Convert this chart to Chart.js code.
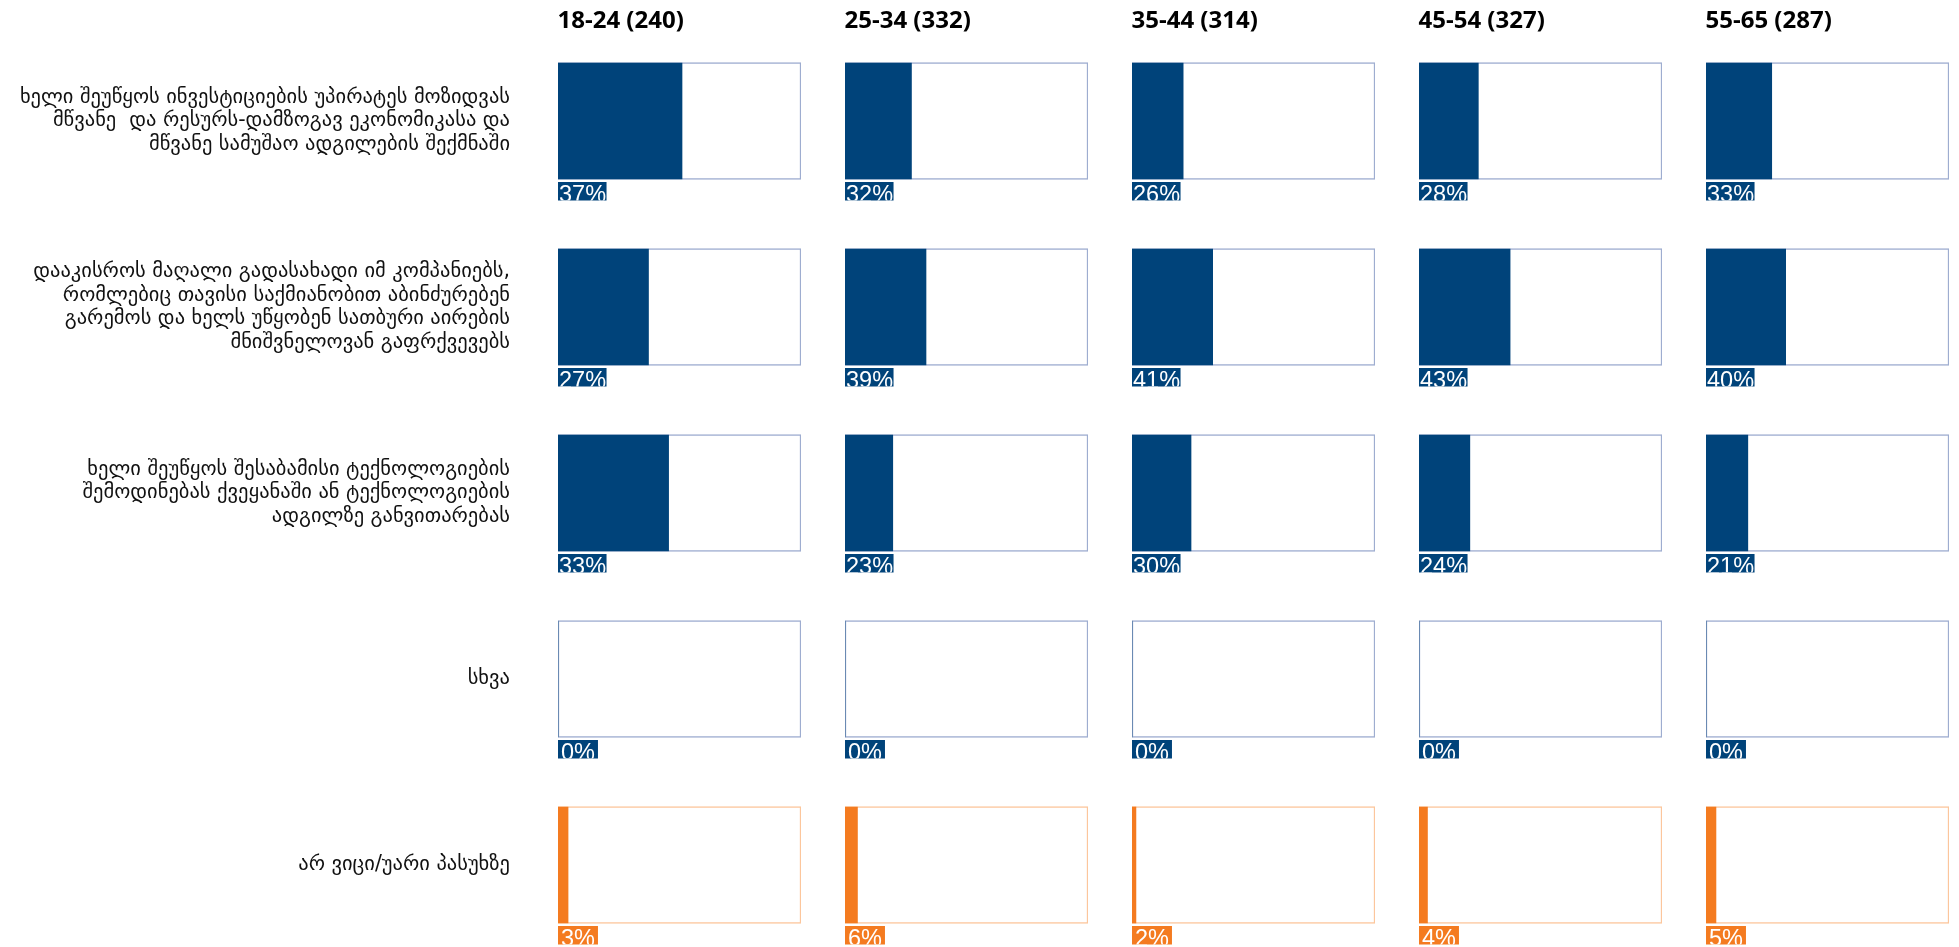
<!DOCTYPE html>
<html>
<head>
<meta charset="utf-8">
<script src="https://cdn.jsdelivr.net/npm/chart.js@4.4.1/dist/chart.umd.min.js"></script>
<style>
  html, body { margin: 0; padding: 0; background: #fff; overflow: hidden; width: 1959px; height: 947px; }
  .wrap { position: relative; width: 1959px; height: 947px; }
  canvas { position: absolute; top: 0; }
  .hdr { position: absolute; top: 3px; font-family: "Open Sans", sans-serif; font-weight: 700; font-size: 24px; line-height: 32px; color: #000; white-space: nowrap; }
</style>
</head>
<body>
<div class="wrap" id="wrap"></div>
<script>
// ---- data ----
const ageGroups = ['18-24 (240)', '25-34 (332)', '35-44 (314)', '45-54 (327)', '55-65 (287)'];
const statements = [
  ['ხელი შეუწყოს ინვესტიციების უპირატეს მოზიდვას', 'მწვანე  და რესურს-დამზოგავ ეკონომიკასა და', 'მწვანე სამუშაო ადგილების შექმნაში'],
  ['დააკისროს მაღალი გადასახადი იმ კომპანიებს,', 'რომლებიც თავისი საქმიანობით აბინძურებენ', 'გარემოს და ხელს უწყობენ სათბური აირების', 'მნიშვნელოვან გაფრქვევებს'],
  ['ხელი შეუწყოს შესაბამისი ტექნოლოგიების', 'შემოდინებას ქვეყანაში ან ტექნოლოგიების', 'ადგილზე განვითარებას'],
  'სხვა',
  'არ ვიცი/უარი პასუხზე'
];
const values1824 = [37, 27, 33, 0, 3];
const values2534 = [32, 39, 23, 0, 6];
const values3544 = [26, 41, 30, 0, 2];
const values4554 = [28, 43, 24, 0, 4];
const values5565 = [33, 40, 21, 0, 5];
const columnValues = [values1824, values2534, values3544, values4554, values5565];
// full-box scale per panel
const axisMax = [72.5, 117, 123.5, 114.7, 122];

// ---- style ----
const NAVY = '#00437a';
const ORANGE = '#f47b20';
const barColors = [NAVY, NAVY, NAVY, NAVY, ORANGE];
const boxBorders = ['#9eadd0', '#9eadd0', '#9eadd0', '#9eadd0', '#fcc69c'];
const boxLefts = [558, 845, 1132, 1419, 1706];
const boxW = 243;
const canvasH = 990;
const padTop = 28, padBottom = 32;
const barH = 117;

const pctLabels = {
  id: 'pctLabels',
  afterDatasetsDraw(chart) {
    const ctx = chart.ctx;
    const meta = chart.getDatasetMeta(0);
    const data = chart.data.datasets[0].data;
    const left = chart.chartArea.left;
    ctx.save();
    ctx.font = '23.5px "Liberation Sans", Arial, sans-serif';
    meta.data.forEach((el, i) => {
      const txt = data[i] + '%';
      const tw = ctx.measureText(txt).width;
      const top = el.y + barH / 2 + 2.5;
      const h = 18.5;
      const w = tw + (data[i] < 10 ? 6 : 1.5);
      ctx.save();
      ctx.fillStyle = barColors[i];
      ctx.fillRect(left, top, w, h);
      ctx.beginPath();
      ctx.rect(left, top, w, h);
      ctx.clip();
      ctx.fillStyle = '#ffffff';
      ctx.textBaseline = 'alphabetic';
      ctx.textAlign = 'left';
      ctx.fillText(txt, left + (data[i] < 10 ? 3 : 1), top + h + 1);
      ctx.restore();
    });
    ctx.restore();
  }
};

const wrap = document.getElementById('wrap');

columnValues.forEach((vals, c) => {
  const first = c === 0;
  const cLeft = first ? 0 : boxLefts[c] - 2;
  const cWidth = first ? boxLefts[0] + boxW + 2 : boxW + 4;
  const canvas = document.createElement('canvas');
  canvas.width = cWidth;
  canvas.height = canvasH;
  canvas.style.left = cLeft + 'px';
  canvas.style.width = cWidth + 'px';
  canvas.style.height = canvasH + 'px';
  wrap.appendChild(canvas);

  const hdr = document.createElement('div');
  hdr.className = 'hdr';
  hdr.style.left = (boxLefts[c] - 0.5) + 'px';
  hdr.textContent = ageGroups[c];
  wrap.appendChild(hdr);

  new Chart(canvas, {
    type: 'bar',
    data: {
      labels: statements,
      datasets: [
        {
          data: vals,
          backgroundColor: barColors,
          borderWidth: 0,
          barThickness: barH - 1,
          grouped: false,
          order: 0
        },
        {
          data: vals.map(() => axisMax[c]),
          backgroundColor: '#ffffff',
          borderColor: boxBorders,
          borderWidth: 1.5,
          borderSkipped: false,
          barThickness: barH,
          grouped: false,
          order: 1
        }
      ]
    },
    options: {
      indexAxis: 'y',
      responsive: false,
      animation: false,
      devicePixelRatio: 1,
      layout: { padding: { left: first ? 0 : 2, right: 2, top: padTop, bottom: padBottom } },
      plugins: { legend: { display: false }, tooltip: { enabled: false }, title: { display: false } },
      scales: {
        x: { display: false, min: 0, max: axisMax[c] },
        y: {
          display: first,
          grid: { display: false, drawTicks: false },
          border: { display: false },
          ticks: {
            padding: 48,
            color: '#111',
            font: { family: '"DejaVu Sans", sans-serif', size: 20.5, lineHeight: 1.146 }
          },
          afterFit(scale) {
            if (first) {
              scale.width = boxLefts[0];
              scale.paddingTop = 0;
              scale.paddingBottom = 0;
            }
          }
        }
      }
    },
    plugins: [pctLabels]
  });
});
</script>
</body>
</html>
